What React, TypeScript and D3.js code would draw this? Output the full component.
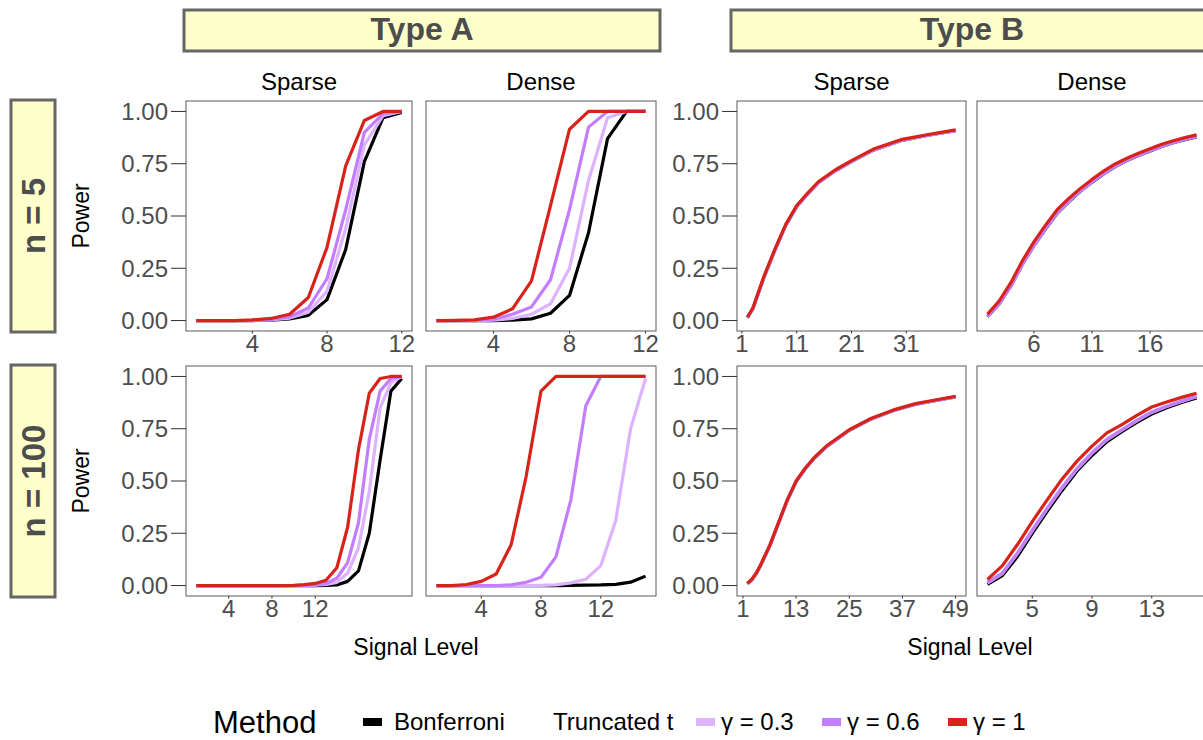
import * as d3 from "d3";

// legend / method order (drawing order too)
const methodNames = ["Bonferroni", "γ = 0.3", "γ = 0.6", "γ = 1"];
const methodColors = ["#000000", "#DDB2FF", "#C27EFF", "#D8231B"];

const yTicks = [0, 0.25, 0.5, 0.75, 1];

// ---- Type A, Sparse, n = 5
const aSparse5X = [1, 2, 3, 4, 5, 6, 7, 8, 9, 10, 11, 12];
const aSparse5Bonf = [0, 0, 0, 0, 0.002, 0.008, 0.025, 0.1, 0.34, 0.76, 0.97, 0.995];
const aSparse5G03 = [0, 0, 0, 0, 0.003, 0.012, 0.04, 0.14, 0.44, 0.84, 0.98, 1];
const aSparse5G06 = [0, 0, 0, 0.001, 0.004, 0.018, 0.06, 0.2, 0.53, 0.9, 0.99, 1];
const aSparse5G1 = [0, 0, 0, 0.003, 0.01, 0.03, 0.11, 0.35, 0.74, 0.957, 1, 1];

// ---- Type A, Dense, n = 5
const aDense5X = [1, 2, 3, 4, 5, 6, 7, 8, 9, 10, 11, 12];
const aDense5Bonf = [0, 0, 0, 0, 0.002, 0.008, 0.035, 0.12, 0.42, 0.87, 1, 1];
const aDense5G03 = [0, 0, 0, 0.002, 0.01, 0.03, 0.08, 0.25, 0.67, 0.97, 1, 1];
const aDense5G06 = [0, 0, 0.001, 0.005, 0.03, 0.065, 0.195, 0.53, 0.925, 1, 1, 1];
const aDense5G1 = [0, 0.001, 0.003, 0.016, 0.056, 0.19, 0.55, 0.915, 1, 1, 1, 1];

// ---- Type A, Sparse, n = 100
const aSparse100X = [1, 2, 3, 4, 5, 6, 7, 8, 9, 10, 11, 12, 13, 14, 15, 16, 17, 18, 19, 20];
const aSparse100Bonf = [0, 0, 0, 0, 0, 0, 0, 0, 0, 0, 0, 0, 0.001, 0.003, 0.02, 0.07, 0.25, 0.6, 0.93, 0.99];
const aSparse100G03 = [0, 0, 0, 0, 0, 0, 0, 0, 0, 0, 0, 0.002, 0.005, 0.015, 0.06, 0.18, 0.45, 0.85, 0.97, 1];
const aSparse100G06 = [0, 0, 0, 0, 0, 0, 0, 0, 0, 0, 0.001, 0.003, 0.01, 0.035, 0.11, 0.3, 0.7, 0.93, 0.99, 1];
const aSparse100G1 = [0, 0, 0, 0, 0, 0, 0, 0, 0, 0.001, 0.004, 0.01, 0.025, 0.085, 0.28, 0.65, 0.92, 0.99, 1, 1];

// ---- Type A, Dense, n = 100
const aDense100X = [1, 2, 3, 4, 5, 6, 7, 8, 9, 10, 11, 12, 13, 14, 15];
const aDense100Bonf = [0, 0, 0, 0, 0, 0, 0, 0, 0, 0.001, 0.002, 0.003, 0.006, 0.016, 0.045];
const aDense100G03 = [0, 0, 0, 0, 0, 0, 0, 0.001, 0.003, 0.013, 0.03, 0.095, 0.31, 0.75, 0.99];
const aDense100G06 = [0, 0, 0, 0, 0, 0.003, 0.016, 0.04, 0.137, 0.41, 0.86, 1, 1, 1, 1];
const aDense100G1 = [0, 0, 0.005, 0.02, 0.055, 0.195, 0.52, 0.93, 1, 1, 1, 1, 1, 1, 1];

// ---- Type B, Sparse, n = 5
const bSparse5X = [2, 3, 5, 7, 9, 11, 13, 15, 18, 21, 25, 30, 35, 40];
const bSparse5Bonf = [0.014, 0.057, 0.205, 0.335, 0.455, 0.545, 0.605, 0.66, 0.715, 0.76, 0.815, 0.86, 0.886, 0.908];
const bSparse5G03 = [0.014, 0.057, 0.205, 0.335, 0.455, 0.545, 0.605, 0.66, 0.715, 0.76, 0.815, 0.86, 0.886, 0.908];
const bSparse5G06 = [0.015, 0.058, 0.206, 0.336, 0.456, 0.546, 0.606, 0.661, 0.716, 0.761, 0.816, 0.861, 0.887, 0.909];
const bSparse5G1 = [0.016, 0.06, 0.21, 0.34, 0.46, 0.55, 0.61, 0.665, 0.72, 0.765, 0.82, 0.865, 0.89, 0.912];

// ---- Type B, Dense, n = 5
const bDense5X = [2, 3, 4, 5, 6, 7, 8, 9, 10, 11, 12, 13, 14, 15, 16, 17, 18, 19, 20];
const bDense5Bonf = [0.018, 0.078, 0.163, 0.268, 0.358, 0.438, 0.513, 0.568, 0.618, 0.661, 0.701, 0.736, 0.765, 0.789, 0.811, 0.832, 0.85, 0.865, 0.878];
const bDense5G03 = [0.02, 0.08, 0.165, 0.27, 0.36, 0.44, 0.515, 0.57, 0.62, 0.663, 0.703, 0.738, 0.767, 0.791, 0.813, 0.834, 0.852, 0.867, 0.88];
const bDense5G06 = [0.02, 0.08, 0.165, 0.27, 0.36, 0.44, 0.515, 0.57, 0.62, 0.663, 0.703, 0.738, 0.767, 0.791, 0.813, 0.834, 0.852, 0.867, 0.88];
const bDense5G1 = [0.03, 0.093, 0.18, 0.285, 0.376, 0.456, 0.53, 0.584, 0.632, 0.675, 0.715, 0.749, 0.776, 0.8, 0.822, 0.843, 0.86, 0.875, 0.888];

// ---- Type B, Sparse, n = 100
const bSparse100X = [2, 3, 4, 5, 7, 9, 11, 13, 15, 17, 20, 25, 30, 35, 40, 45, 49];
const bSparse100Bonf = [0.008, 0.027, 0.057, 0.097, 0.187, 0.297, 0.407, 0.497, 0.557, 0.607, 0.667, 0.742, 0.797, 0.837, 0.867, 0.887, 0.902];
const bSparse100G03 = [0.008, 0.027, 0.057, 0.097, 0.187, 0.297, 0.407, 0.497, 0.557, 0.607, 0.667, 0.742, 0.797, 0.837, 0.867, 0.887, 0.902];
const bSparse100G06 = [0.009, 0.028, 0.058, 0.098, 0.188, 0.298, 0.408, 0.498, 0.558, 0.608, 0.668, 0.743, 0.798, 0.838, 0.868, 0.888, 0.903];
const bSparse100G1 = [0.01, 0.03, 0.06, 0.1, 0.19, 0.3, 0.41, 0.5, 0.56, 0.61, 0.67, 0.745, 0.8, 0.84, 0.87, 0.89, 0.905];

// ---- Type B, Dense, n = 100
const bDense100X = [2, 3, 4, 5, 6, 7, 8, 9, 10, 11, 12, 13, 14, 15, 16];
const bDense100Bonf = [0.006, 0.048, 0.138, 0.25, 0.355, 0.455, 0.548, 0.622, 0.688, 0.736, 0.78, 0.82, 0.85, 0.875, 0.897];
const bDense100G03 = [0.012, 0.057, 0.152, 0.262, 0.367, 0.467, 0.557, 0.632, 0.697, 0.743, 0.788, 0.828, 0.856, 0.88, 0.903];
const bDense100G06 = [0.015, 0.06, 0.155, 0.265, 0.37, 0.47, 0.56, 0.635, 0.7, 0.745, 0.79, 0.83, 0.858, 0.882, 0.905];
const bDense100G1 = [0.029, 0.095, 0.195, 0.306, 0.41, 0.51, 0.595, 0.667, 0.73, 0.77, 0.814, 0.854, 0.878, 0.9, 0.92];

// x tick labels per panel
const aTicks = [4, 8, 12];
const bSparse5Ticks = [1, 11, 21, 31];
const bDense5Ticks = [1, 6, 11, 16, 21];
const bSparse100Ticks = [1, 13, 25, 37, 49];
const bDense100Ticks = [1, 5, 9, 13, 17];

type Panel = {
  col: number;
  row: number;
  x: number[];
  series: number[][];
  ticks: number[];
};

const panels: Panel[] = [
  { col: 0, row: 0, x: aSparse5X, series: [aSparse5Bonf, aSparse5G03, aSparse5G06, aSparse5G1], ticks: aTicks },
  { col: 1, row: 0, x: aDense5X, series: [aDense5Bonf, aDense5G03, aDense5G06, aDense5G1], ticks: aTicks },
  { col: 0, row: 1, x: aSparse100X, series: [aSparse100Bonf, aSparse100G03, aSparse100G06, aSparse100G1], ticks: aTicks },
  { col: 1, row: 1, x: aDense100X, series: [aDense100Bonf, aDense100G03, aDense100G06, aDense100G1], ticks: aTicks },
  { col: 2, row: 0, x: bSparse5X, series: [bSparse5Bonf, bSparse5G03, bSparse5G06, bSparse5G1], ticks: bSparse5Ticks },
  { col: 3, row: 0, x: bDense5X, series: [bDense5Bonf, bDense5G03, bDense5G06, bDense5G1], ticks: bDense5Ticks },
  { col: 2, row: 1, x: bSparse100X, series: [bSparse100Bonf, bSparse100G03, bSparse100G06, bSparse100G1], ticks: bSparse100Ticks },
  { col: 3, row: 1, x: bDense100X, series: [bDense100Bonf, bDense100G03, bDense100G06, bDense100G1], ticks: bDense100Ticks },
];

const colNames = ["Sparse", "Dense", "Sparse", "Dense"];

const FONT = "'Liberation Sans', Arial, Helvetica, sans-serif";
const TICK_COL = "#4D4D4D";

export default function App() {
  const cols = [[186, 412], [426, 656], [737, 966], [977, 1207]];
  const rows = [[101, 331], [366, 596]];
  const rowLabels = ["n = 5", "n = 100"];

  const y = (r: number) =>
    d3.scaleLinear().domain([-0.05, 1.05]).range([rows[r][1], rows[r][0]]);

  return (
    <svg
      width={1203}
      height={740}
      style={{ position: "absolute", left: 0, top: 0, background: "#fff" }}
      fontFamily={FONT}
    >
      {/* top strips */}
      {[
        { x0: 184, x1: 660, label: "Type A" },
        { x0: 731, x1: 1213, label: "Type B" },
      ].map(s => (
        <g key={s.label}>
          <rect x={s.x0} y={10} width={s.x1 - s.x0} height={41} fill="#FFFFCC" stroke="#666" strokeWidth={3} />
          <text x={(s.x0 + s.x1) / 2} y={29} dy="0.35em" textAnchor="middle" fontSize={32} fontWeight="bold" fill="#4D4D4D">
            {s.label}
          </text>
        </g>
      ))}

      {/* row strips + y titles */}
      {rows.map((r, i) => {
        const cy = (r[0] + r[1]) / 2;
        return (
          <g key={i}>
            <rect x={11} y={r[0] - 1} width={44} height={r[1] - r[0] + 2} fill="#FFFFCC" stroke="#666" strokeWidth={3} />
            <text transform={`translate(33,${cy}) rotate(-90)`} dy="0.35em" textAnchor="middle" fontSize={33} fontWeight="bold" fill="#4D4D4D">
              {rowLabels[i]}
            </text>
            <text transform={`translate(81,${cy}) rotate(-90)`} dy="0.35em" textAnchor="middle" fontSize={23} fill="#000">
              Power
            </text>
          </g>
        );
      })}

      {/* column labels */}
      {cols.map((c, i) => (
        <text key={i} x={(c[0] + c[1]) / 2} y={82} dy="0.35em" textAnchor="middle" fontSize={24} fill="#000">
          {colNames[i]}
        </text>
      ))}

      {/* x titles */}
      <text x={416} y={647} dy="0.35em" textAnchor="middle" fontSize={23} fill="#000">Signal Level</text>
      <text x={970} y={647} dy="0.35em" textAnchor="middle" fontSize={23} fill="#000">Signal Level</text>

      {/* panels */}
      {panels.map((p, pi) => {
        const [x0, x1] = cols[p.col];
        const [top, bottom] = rows[p.row];
        const ext = d3.extent(p.x) as [number, number];
        const pad = (ext[1] - ext[0]) * 0.05;
        const xs = d3.scaleLinear().domain([ext[0] - pad, ext[1] + pad]).range([x0, x1]);
        const ys = y(p.row);
        const line = d3
          .line<number>()
          .x((_, i) => xs(p.x[i]))
          .y(d => ys(d));
        const ticks = p.ticks.filter(t => xs(t) >= x0 - 0.5 && xs(t) <= x1 + 0.5);
        return (
          <g key={pi}>
            <rect x={x0} y={top} width={x1 - x0} height={bottom - top} fill="#fff" stroke="#5A5A5A" strokeWidth={1} />
            {p.series.map((s, si) => (
              <path
                key={si}
                d={line(s) || ""}
                fill="none"
                stroke={methodColors[si]}
                strokeWidth={3.2}
                strokeLinejoin="round"
                strokeLinecap="butt"
              />
            ))}
            {/* x axis ticks */}
            {ticks.map(t => (
              <g key={t}>
                <line x1={xs(t)} x2={xs(t)} y1={bottom} y2={bottom + 2.5} stroke="#333" strokeWidth={1} />
                <text x={xs(t)} y={bottom + 13} dy="0.35em" textAnchor="middle" fontSize={24} fill={TICK_COL}>
                  {t}
                </text>
              </g>
            ))}
            {/* y axis on left panels of each type */}
            {(p.col === 0 || p.col === 2) &&
              yTicks.map(t => (
                <g key={t}>
                  <line x1={x0 - 15} x2={x0} y1={ys(t)} y2={ys(t)} stroke="#333" strokeWidth={1} />
                  <text x={x0 - 18} y={ys(t)} dy="0.35em" textAnchor="end" fontSize={24} fill={TICK_COL}>
                    {d3.format(".2f")(t)}
                  </text>
                </g>
              ))}
          </g>
        );
      })}

      {/* legend */}
      <g>
        <text x={213} y={722} dy="0.35em" fontSize={31} fill="#000">Method</text>
        <rect x={363} y={718} width={19} height={8} fill={methodColors[0]} />
        <text x={394} y={722} dy="0.35em" fontSize={24} fill="#000">{methodNames[0]}</text>
        <text x={553} y={722} dy="0.35em" fontSize={24} fill="#000">Truncated t</text>
        {[1, 2, 3].map((m, i) => {
          const kx = 696 + i * 126;
          return (
            <g key={m}>
              <rect x={kx} y={718} width={19} height={8} fill={methodColors[m]} />
              <text x={kx + 25} y={722} dy="0.35em" fontSize={24} fill="#000">{methodNames[m]}</text>
            </g>
          );
        })}
      </g>
    </svg>
  );
}
